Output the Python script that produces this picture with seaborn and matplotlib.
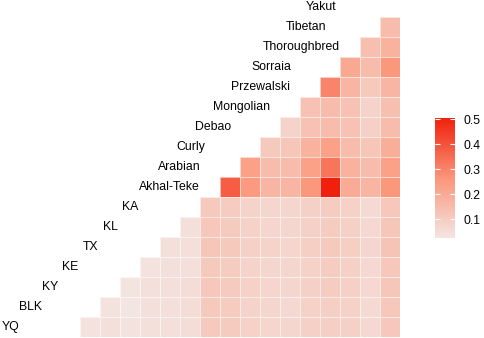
import numpy as np
import pandas as pd
import seaborn as sns
import matplotlib.pyplot as plt
from matplotlib.colors import LinearSegmentedColormap

plt.rcParams['font.family'] = ['Liberation Sans', 'DejaVu Sans']

# populations, bottom row first
pops = ["YQ", "BLK", "KY", "KE", "TX", "KL", "KA", "Akhal-Teke", "Arabian",
        "Curly", "Debao", "Mongolian", "Przewalski", "Sorraia", "Thoroughbred",
        "Tibetan", "Yakut"]

# pairwise values: row i holds the pairs with every later population
yq = [0.035, 0.04, 0.035, 0.04, 0.045, 0.05, 0.11, 0.105, 0.085, 0.075, 0.07, 0.09, 0.095, 0.09, 0.065, 0.115]
blk = [0.035, 0.025, 0.04, 0.045, 0.05, 0.11, 0.10, 0.08, 0.07, 0.065, 0.085, 0.095, 0.085, 0.06, 0.115]
ky = [0.03, 0.04, 0.045, 0.05, 0.115, 0.105, 0.085, 0.075, 0.07, 0.09, 0.10, 0.09, 0.065, 0.12]
ke = [0.035, 0.04, 0.045, 0.11, 0.10, 0.08, 0.07, 0.07, 0.085, 0.10, 0.09, 0.065, 0.115]
tx = [0.04, 0.045, 0.12, 0.11, 0.09, 0.08, 0.075, 0.095, 0.11, 0.095, 0.07, 0.125]
kl = [0.045, 0.115, 0.105, 0.085, 0.075, 0.07, 0.09, 0.10, 0.09, 0.065, 0.12]
ka = [0.11, 0.10, 0.08, 0.07, 0.07, 0.09, 0.10, 0.085, 0.06, 0.115]
akhal = [0.38, 0.25, 0.17, 0.17, 0.26, 0.505, 0.20, 0.17, 0.26]
arabian = [0.23, 0.15, 0.15, 0.23, 0.33, 0.18, 0.15, 0.23]
curly = [0.11, 0.12, 0.18, 0.23, 0.15, 0.12, 0.19]
debao = [0.08, 0.13, 0.15, 0.13, 0.09, 0.15]
mongolian = [0.13, 0.15, 0.13, 0.08, 0.14]
przewalski = [0.30, 0.17, 0.11, 0.17]
sorraia = [0.21, 0.15, 0.26]
thoroughbred = [0.14, 0.18]
tibetan = [0.15]

rows = [yq, blk, ky, ke, tx, kl, ka, akhal, arabian, curly, debao,
        mongolian, przewalski, sorraia, thoroughbred, tibetan, []]

# label centres in column units (layout only)
label_x = [-3.45, -2.5, -1.475, -0.5, 0.525, 1.5, 2.525, 4.45, 4.95,
           5.55, 6.65, 8.1, 9.0, 9.55, 11.08, 11.28, 12.05]

n = len(pops)
mat = np.full((n, n - 1), np.nan)
for i, vals in enumerate(rows):
    for k, v in enumerate(vals):
        mat[i, i + k] = v
df = pd.DataFrame(mat, index=pops, columns=pops[1:]).iloc[::-1]

cmap = LinearSegmentedColormap.from_list(
    "fst", [(0, "#F3E5E2"), (0.5, "#FB9579"), (1, "#F0200C")])

fig = plt.figure(figsize=(4.84, 3.38), dpi=100)
ax = fig.add_axes([80 / 484, 1 / 338, 320 / 484, 340 / 338])
cax = fig.add_axes([435 / 484, 100 / 338, 20 / 484, 120 / 338])

sns.heatmap(df, ax=ax, cbar_ax=cax, cmap=cmap, linewidths=0.7,
            linecolor=(1, 1, 1, 0.6), xticklabels=False, yticklabels=False,
            square=False)
ax.set_xlabel("")
ax.set_ylabel("")

for i, name in enumerate(pops):
    ax.text(label_x[i], n - 1 - i + 0.5, name, ha="center", va="center",
            fontsize=8.8, color="black", clip_on=False)

cbar = ax.collections[0].colorbar
cbar.outline.set_visible(False)
cbar.set_ticks([0.1, 0.2, 0.3, 0.4, 0.5])
cbar.set_ticklabels(["0.1", "0.2", "0.3", "0.4", "0.5"])
cax.tick_params(direction="in", color="white", length=3.5, width=0.8,
                left=True, right=True, labelleft=False, labelright=True,
                labelsize=8.8, pad=6)

fig.savefig("out.png", dpi=100)
